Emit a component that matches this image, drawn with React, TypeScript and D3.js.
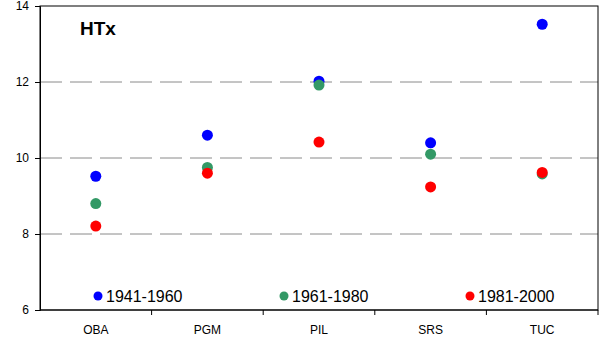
import React, { useEffect, useRef } from 'react';
import * as d3 from 'd3';

// stations and the three periods
const stations = ['OBA', 'PGM', 'PIL', 'SRS', 'TUC'];
const periods = ['1941-1960', '1961-1980', '1981-2000'];
const periodColors = ['#0000ff', '#339966', '#ff0000'];

const htx1941 = [9.52, 10.6, 12.02, 10.4, 13.52];
const htx1961 = [8.8, 9.75, 11.92, 10.1, 9.58];
const htx1981 = [8.21, 9.6, 10.42, 9.24, 9.62];
const seriesValues = [htx1941, htx1961, htx1981];

const yTicks = [6, 8, 10, 12, 14];

const W = 602;
const H = 341;

const App = () => {
  const svgRef = useRef<SVGSVGElement>(null);

  useEffect(() => {
    const svg = d3.select(svgRef.current);
    svg.selectAll('*').remove();

    const left = 40, right = 598, top = 6, bottom = 310;

    const x = d3.scaleBand().domain(stations).range([left, right]);
    const y = d3.scaleLinear().domain([6, 14]).range([bottom, top]);

    // dashed gridlines
    svg.append('g')
      .selectAll('line')
      .data(yTicks.filter(t => t > 6 && t < 14))
      .enter().append('line')
      .attr('x1', left).attr('x2', right)
      .attr('y1', d => y(d)).attr('y2', d => y(d))
      .attr('stroke', '#8a8a8a')
      .attr('stroke-width', 1)
      .attr('stroke-dasharray', '22,8');

    // frame
    svg.append('rect')
      .attr('x', left).attr('y', top)
      .attr('width', right - left).attr('height', bottom - top)
      .attr('fill', 'none')
      .attr('stroke', '#000');

    // y axis
    const yAxis = svg.append('g')
      .attr('transform', `translate(${left},0)`)
      .call(d3.axisLeft(y).tickValues(yTicks).tickSize(5).tickPadding(6));
    yAxis.select('.domain').attr('stroke', '#000');
    yAxis.selectAll('text')
      .attr('font-family', 'Liberation Sans, Arial, sans-serif')
      .attr('font-size', 12)
      .attr('fill', '#000');

    // x axis: ticks at band boundaries
    const xAxis = svg.append('g').attr('transform', `translate(0,${bottom})`);
    xAxis.append('line')
      .attr('x1', left).attr('x2', right)
      .attr('stroke', '#000');
    xAxis.selectAll('.tk')
      .data(stations)
      .enter().append('line')
      .attr('class', 'tk')
      .attr('x1', d => x(d)! + x.bandwidth())
      .attr('x2', d => x(d)! + x.bandwidth())
      .attr('y1', 0).attr('y2', 5)
      .attr('stroke', '#000');
    xAxis.selectAll('text')
      .data(stations)
      .enter().append('text')
      .attr('x', d => x(d)! + x.bandwidth() / 2)
      .attr('y', 24)
      .attr('text-anchor', 'middle')
      .attr('font-family', 'Liberation Sans, Arial, sans-serif')
      .attr('font-size', 12)
      .text(d => d);

    // points
    seriesValues.forEach((vals, i) => {
      svg.append('g')
        .selectAll('circle')
        .data(vals)
        .enter().append('circle')
        .attr('cx', (_, j) => x(stations[j])! + x.bandwidth() / 2)
        .attr('cy', d => y(d))
        .attr('r', 5.5)
        .attr('fill', periodColors[i]);
    });

    // legend
    const legX = d3.scaleLinear().domain([0, 1]).range([98, 284]);
    const leg = svg.append('g')
      .selectAll('g')
      .data(periods)
      .enter().append('g')
      .attr('transform', (_, i) => `translate(${legX(i)},296)`);
    leg.append('circle')
      .attr('r', 4.5)
      .attr('fill', (_, i) => periodColors[i]);
    leg.append('text')
      .attr('x', 8)
      .attr('dy', '0.36em')
      .attr('font-family', 'Liberation Sans, Arial, sans-serif')
      .attr('font-size', 16)
      .text(d => d);

    // title
    svg.append('text')
      .attr('x', 80).attr('y', 35)
      .attr('font-family', 'Liberation Sans, Arial, sans-serif')
      .attr('font-size', 19)
      .attr('font-weight', 'bold')
      .text('HTx');
  }, []);

  return (
    <div style={{ position: 'absolute', left: 0, top: 0 }}>
      <svg ref={svgRef} width={W} height={H} style={{ display: 'block', background: '#fff' }} />
    </div>
  );
};

export default App;
